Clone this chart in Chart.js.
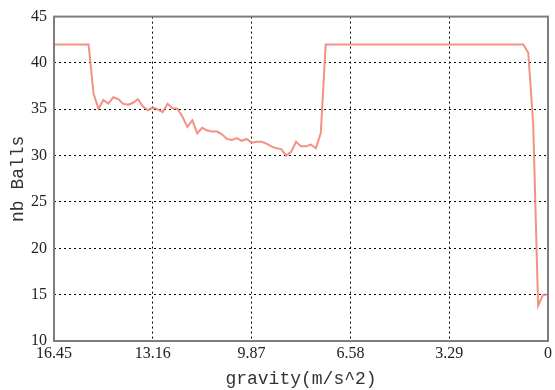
<!DOCTYPE html>
<html>
<head>
<meta charset="utf-8">
<script src="https://cdn.jsdelivr.net/npm/chart.js@4/dist/chart.umd.min.js"></script>
<style>
  html, body { margin: 0; padding: 0; background: #fff; }
  #c { display: block; }
</style>
</head>
<body>
<canvas id="c" width="555" height="390"></canvas>
<script>
// gravity values (m/s^2), one sample every 0.1645
const GRAVITY = [
  16.45, 16.2855, 16.121, 15.9565, 15.792, 15.6275, 15.463, 15.2985, 15.134, 14.9695,
  14.805, 14.6405, 14.476, 14.3115, 14.147, 13.9825, 13.818, 13.6535, 13.489, 13.3245,
  13.16, 12.9955, 12.831, 12.6665, 12.502, 12.3375, 12.173, 12.0085, 11.844, 11.6795,
  11.515, 11.3505, 11.186, 11.0215, 10.857, 10.6925, 10.528, 10.3635, 10.199, 10.0345,
  9.87, 9.7055, 9.541, 9.3765, 9.212, 9.0475, 8.883, 8.7185, 8.554, 8.3895,
  8.225, 8.0605, 7.896, 7.7315, 7.567, 7.4025, 7.238, 7.0735, 6.909, 6.7445,
  6.58, 6.4155, 6.251, 6.0865, 5.922, 5.7575, 5.593, 5.4285, 5.264, 5.0995,
  4.935, 4.7705, 4.606, 4.4415, 4.277, 4.1125, 3.948, 3.7835, 3.619, 3.4545,
  3.29, 3.1255, 2.961, 2.7965, 2.632, 2.4675, 2.303, 2.1385, 1.974, 1.8095,
  1.645, 1.4805, 1.316, 1.1515, 0.987, 0.8225, 0.658, 0.4935, 0.329, 0.1645,
  0
];

// number of balls
const NB_BALLS = [
  42, 42, 42, 42, 42, 42, 42, 42, 36.7, 35.05,
  36.0, 35.6, 36.3, 36.1, 35.6, 35.5, 35.7, 36.1, 35.3, 34.9,
  35.2, 35.0, 34.7, 35.6, 35.1, 35.05, 34.2, 33.1, 33.8, 32.4,
  33.0, 32.7, 32.6, 32.6, 32.3, 31.8, 31.7, 31.9, 31.6, 31.8,
  31.4, 31.5, 31.5, 31.3, 31.0, 30.8, 30.7, 30.0, 30.4, 31.5,
  31.0, 31.0, 31.2, 30.8, 32.4, 42, 42, 42, 42, 42,
  42, 42, 42, 42, 42, 42, 42, 42, 42, 42,
  42, 42, 42, 42, 42, 42, 42, 42, 42, 42,
  42, 42, 42, 42, 42, 42, 42, 42, 42, 42,
  42, 42, 42, 42, 42, 42, 41.1, 33.5, 13.8, 15.0,
  15.0
];

const X_TICKS = [16.45, 13.16, 9.87, 6.58, 3.29, 0];
const X_TICK_LABELS = ["16.45", "13.16", "9.87", "6.58", "3.29", "0"];
const Y_TICKS = [10, 15, 20, 25, 30, 35, 40, 45];

const X_TITLE = "gravity(m/s^2)";
const Y_TITLE = "nb Balls";

// ----------------- frame -----------------
const framePlugin = {
  id: "frame",
  afterDraw(chart) {
    const a = chart.chartArea;
    const ctx = chart.ctx;
    ctx.save();
    ctx.strokeStyle = "#7d7d7d";
    ctx.lineWidth = 2;
    ctx.strokeRect(a.left, a.top, a.right - a.left, a.bottom - a.top);
    ctx.restore();
  },
};

const points = GRAVITY.map((g, i) => ({ x: g, y: NB_BALLS[i] }));

const tickFont = { family: "'Liberation Serif', 'Times New Roman', serif", size: 16 };
const titleFont = { family: "'Liberation Mono', 'DejaVu Sans Mono', monospace", size: 18 };

new Chart(document.getElementById("c").getContext("2d"), {
  type: "line",
  data: {
    datasets: [{
      data: points,
      borderColor: "rgba(242,125,110,0.85)",
      borderWidth: 2,
      pointRadius: 0,
      tension: 0,
      fill: false,
    }],
  },
  options: {
    animation: false,
    responsive: false,
    maintainAspectRatio: false,
    layout: { padding: { top: 14, right: 4, left: 0, bottom: 0 } },
    plugins: { legend: { display: false }, tooltip: { enabled: false } },
    scales: {
      x: {
        type: "linear",
        min: 0,
        max: 16.45,
        reverse: true,
        afterBuildTicks: (axis) => { axis.ticks = X_TICKS.map((v) => ({ value: v })); },
        afterFit: (scale) => { scale.height = 49; },
        ticks: {
          autoSkip: false,
          maxRotation: 0,
          padding: 3,
          color: "#222",
          font: tickFont,
          callback: (v) => {
            const i = X_TICKS.indexOf(v);
            return i >= 0 ? X_TICK_LABELS[i] : "";
          },
        },
        grid: { color: "#000", lineWidth: 1, drawTicks: false },
        border: { display: false, dash: [2, 3] },
        title: { display: true, text: X_TITLE, color: "#333", font: titleFont, padding: { top: 0, bottom: 0 } },
      },
      y: {
        min: 10,
        max: 45,
        afterBuildTicks: (axis) => { axis.ticks = Y_TICKS.map((v) => ({ value: v })); },
        afterFit: (scale) => { scale.width = 54; },
        ticks: { padding: 7, color: "#222", font: tickFont },
        grid: { color: "#000", lineWidth: 1, drawTicks: false },
        border: { display: false, dash: [2, 3] },
        title: { display: true, text: Y_TITLE, color: "#333", font: titleFont, padding: { top: 7, bottom: 0 } },
      },
    },
  },
  plugins: [framePlugin],
});
</script>
</body>
</html>
